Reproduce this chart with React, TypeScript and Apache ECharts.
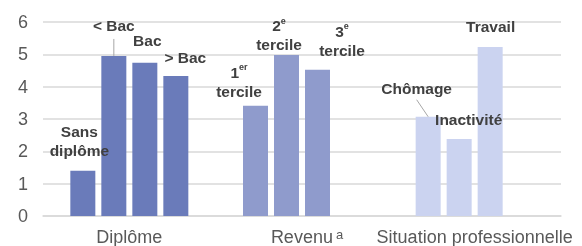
import React, { useEffect, useRef } from "react";
import * as echarts from "echarts";

const categories = ["Diplôme", "Revenu", "Situation professionnelle"];
const yTicks = { min: 0, max: 6, interval: 1 };

const series1 = [1.4, 3.41, 3.07];
const series2 = [4.95, 4.98, 2.38];
const series3 = [4.74, 4.52, 5.23];
const series4: (number | null)[] = [4.33, null, null];

const labels1 = ["Sans\ndiplôme", "1{sup|er}\ntercile", "Chômage"];
const labels2 = ["< Bac", "2{sup|e}\ntercile", "Inactivité"];
const labels3 = ["Bac", "3{sup|e}\ntercile", "Travail"];
const labels4 = ["> Bac", "", ""];

// label offsets (layout only)
const offsets1 = [[-3.5, -6], [-16.5, 0], [-11.5, -13.5]];
const offsets2 = [[0, -15.5], [-7.5, 4.5], [9.5, -5.5]];
const offsets3 = [[2.5, -8], [24.5, -5], [0.5, -6]];
const offsets4 = [[9.5, -4], [0, 0], [0, 0]];

const groupColors = ["#6a7bba", "#8f9bcc", "#cbd3f0"];

export default function App() {
  const ref = useRef<HTMLDivElement>(null);
  useEffect(() => {
    if (!ref.current) return;
    const chart = echarts.init(ref.current, undefined, { renderer: "svg" });
    const labelStyle = {
      show: true,
      position: "top",
      distance: 5,
      fontFamily: "Liberation Sans, Arial, sans-serif",
      fontSize: 15.5,
      fontWeight: "bold",
      color: "#404040",
      lineHeight: 19,
      rich: {
        sup: {
          fontFamily: "Liberation Sans, Arial, sans-serif",
          fontSize: 9,
          fontWeight: "bold",
          color: "#404040",
          lineHeight: 12,
          verticalAlign: "top",
        },
      },
    };
    const mk = (vals: (number | null)[], labs: string[], offs: number[][]) =>
      vals.map((v, i) => ({
        value: v,
        itemStyle: { color: groupColors[i] },
        label: { ...labelStyle, formatter: labs[i], offset: offs[i] },
      }));
    const allSeries = [
      mk(series1, labels1, offsets1),
      mk(series2, labels2, offsets2),
      mk(series3, labels3, offsets3),
      mk(series4, labels4, offsets4),
    ].map((data) => ({
      type: "bar",
      data,
      barWidth: 25,
      barGap: "24%",
    }));
    chart.setOption({
      animation: false,
      grid: { left: 43, right: 21, top: 22, bottom: 30, containLabel: false },
      xAxis: {
        type: "category",
        data: categories,
        axisLine: { show: true, lineStyle: { color: "#d9d9d9", width: 1.5 } },
        axisTick: { show: false },
        axisLabel: {
          color: "#595959",
          fontFamily: "Liberation Sans, Arial, sans-serif",
          fontSize: 18,
          margin: 12,
          interval: 0,
          formatter: (v: string) =>
            v === "Revenu" ? "{pad|}Revenu{sup|a}" : v,
          rich: {
            pad: { width: 10 },
            sup: {
              color: "#595959",
              fontFamily: "Liberation Sans, Arial, sans-serif",
              fontSize: 13,
              verticalAlign: "top",
              lineHeight: 4,
              padding: [0, 0, 0, 3],
            },
          },
        },
      },
      yAxis: {
        type: "value",
        min: yTicks.min,
        max: yTicks.max,
        interval: yTicks.interval,
        axisLine: { show: false },
        axisTick: { show: false },
        splitLine: { lineStyle: { color: "#d9d9d9", width: 1.5 } },
        axisLabel: {
          color: "#595959",
          fontFamily: "Liberation Sans, Arial, sans-serif",
          fontSize: 18,
          margin: 15,
        },
      },
      series: allSeries,
    });
    // leader lines for "< Bac" and "Chômage"
    try {
      const model: any = (chart as any).getModel();
      const lay = (s: number, i: number) =>
        model.getSeriesByIndex(s).getData().getItemLayout(i);
      const a = lay(1, 0);
      const b = lay(0, 2);
      const ax = a.x + a.width / 2;
      const ay = a.y + Math.min(0, a.height);
      const bx = b.x + b.width / 2;
      const by = b.y + Math.min(0, b.height);
      chart.setOption({
        graphic: [
          {
            type: "line",
            shape: { x1: ax, y1: ay - 17, x2: ax, y2: ay },
            style: { stroke: "#a6a6a6", lineWidth: 1 },
            z: 10,
          },
          {
            type: "line",
            shape: { x1: bx - 11.5, y1: by - 17, x2: bx, y2: by },
            style: { stroke: "#a6a6a6", lineWidth: 1 },
            z: 10,
          },
        ],
      });
    } catch (e) {}
    return () => chart.dispose();
  }, []);
  return (
    <div
      ref={ref}
      style={{ position: "fixed", left: 0, top: 0, width: 582, height: 246 }}
    />
  );
}
